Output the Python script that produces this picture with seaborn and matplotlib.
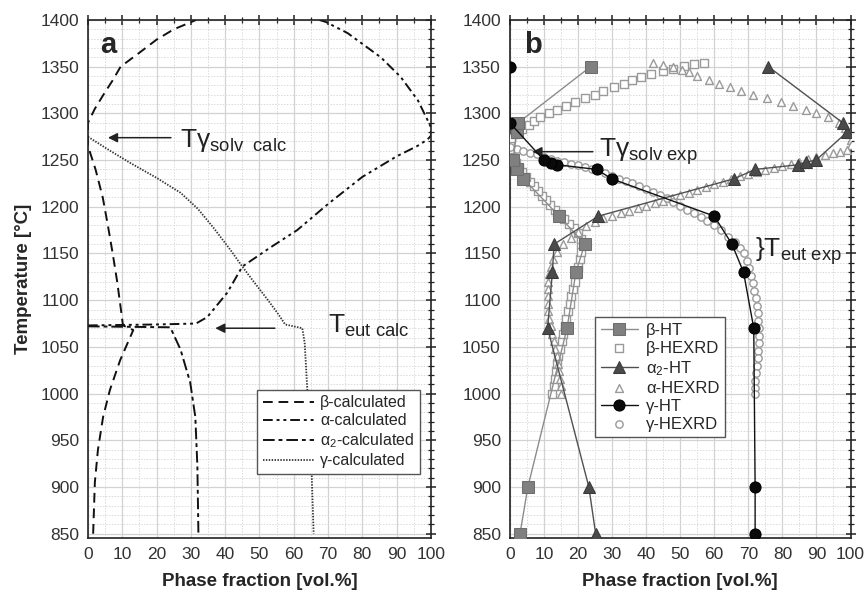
import numpy as np
import pandas as pd
import seaborn as sns
import matplotlib.pyplot as plt
from matplotlib.ticker import MultipleLocator

sns.set_style('white')
plt.rcParams['font.family'] = ['Liberation Sans', 'DejaVu Sans']
plt.rcParams['mathtext.fontset'] = 'custom'
plt.rcParams['mathtext.rm'] = 'Liberation Sans'
plt.rcParams['mathtext.it'] = 'Liberation Sans:italic'
plt.rcParams['mathtext.bf'] = 'Liberation Sans:bold'

# ---- panel a : calculated phase fractions ----
beta_calc_x = [1.5, 2.0, 2.9, 4.4, 6.4, 9.4, 13.2, 10.2, 9.6, 8.5, 7.2, 5.8, 4.3, 2.2, 0, 0,
               2, 4.5, 7.3, 9.5, 15, 20, 25, 31.5]
beta_calc_T = [850, 905, 940, 975, 1004, 1036, 1068, 1073, 1090, 1120, 1150, 1180, 1210, 1240, 1265, 1290,
               1305, 1320, 1336, 1350, 1365, 1379, 1390, 1400]

alpha_calc_x = [0, 20, 31.5, 34.8, 40.6, 45, 53, 61, 70, 80, 90, 96, 99, 100, 100,
                99.4, 96.2, 91.2, 85.4, 75.7, 69.3, 67.5]
alpha_calc_T = [1073, 1074, 1075, 1082, 1108, 1136, 1156, 1175, 1203, 1232, 1254, 1265, 1272, 1276, 1285,
                1290, 1314, 1339, 1360, 1386, 1398, 1400]

alpha2_calc_x = [0, 12, 24, 27, 29.8, 31.3, 31.9, 32.2]
alpha2_calc_T = [1072, 1071.5, 1071, 1047, 1012, 975, 922, 850]

gamma_calc_x = [0, 6, 12.3, 20, 27, 32, 36.5, 41.5, 45, 48.5, 52.5, 55.5, 57.5, 60, 62.5,
                63.2, 64, 65, 65.8]
gamma_calc_T = [1275, 1261, 1247, 1231, 1215, 1198, 1178, 1154, 1136, 1119, 1100, 1085, 1074, 1072, 1070,
                1054, 1001, 940, 850]

# ---- panel b : heat treatment (HT) points ----
beta_ht_T = [850, 900, 1070, 1130, 1160, 1190, 1230, 1240, 1250, 1280, 1290, 1350]
beta_ht_x = [3, 5.3, 16.8, 19.4, 22, 14.5, 4, 2, 1, 2, 2.5, 23.7]

alpha2_ht_T = [850, 900, 1070, 1130, 1160, 1190, 1230, 1240, 1245, 1248, 1250, 1280, 1290, 1350]
alpha2_ht_x = [25.2, 23.2, 11.1, 12.5, 13, 26, 65.8, 72, 84.6, 87, 89.9, 99, 97.7, 75.9]

gamma_ht_T = [850, 900, 1070, 1130, 1160, 1190, 1230, 1240, 1245, 1247, 1250, 1290, 1350]
gamma_ht_x = [72, 72, 71.6, 68.6, 65.2, 60, 29.9, 25.5, 14, 12, 10, 0, 0]

# ---- panel b : in-situ HEXRD ----
beta_hex_T = [1000, 1008, 1016, 1024, 1032, 1040, 1048, 1056, 1064, 1072, 1080, 1088, 1096, 1104, 1112,
              1120, 1128, 1136, 1144, 1152, 1160,
              1166, 1172, 1177, 1182, 1187, 1192, 1197, 1202, 1207, 1212, 1217, 1222, 1227, 1232, 1237,
              1242, 1247, 1252, 1257, 1262, 1268, 1274,
              1278, 1283, 1288, 1292, 1296, 1300, 1304, 1308, 1312, 1316, 1320, 1324, 1328, 1332, 1336,
              1339, 1342, 1345, 1348, 1351, 1353, 1354]
beta_hex_x = [12.5, 12.9, 13.3, 13.6, 13.9, 14.2, 14.7, 15.2, 15.6, 16.1, 16.6, 17.1, 17.6, 18.1, 18.6,
              19.1, 19.6, 20.1, 20.5, 20.8, 21.0,
              20.8, 20.0, 18.8, 17.5, 16.0, 14.7, 13.2, 11.9, 10.6, 9.4, 8.2, 7.0, 5.8, 4.7, 3.6,
              2.6, 1.7, 1.0, 0.4, 0.1, 0.0, 0.3,
              1.5, 3.5, 5.5, 7.0, 9.0, 11.5, 14.0, 16.5, 19.0, 22.0, 25.0, 27.5, 30.5, 33.5, 36.0,
              38.5, 41.5, 45.0, 48.0, 51.0, 54.0, 57.0]

alpha_hex_T = [1354, 1352, 1350, 1347, 1344, 1340, 1336, 1332, 1328, 1324, 1320, 1316, 1312, 1308, 1304,
               1300, 1296, 1290, 1284, 1278, 1272, 1266,
               1261, 1259, 1257.5, 1255.5, 1253.5, 1251, 1248, 1246, 1244, 1241.5, 1239, 1237, 1235, 1232.5,
               1230, 1227, 1224, 1221, 1218, 1215, 1212.5, 1209.5, 1206.5, 1204, 1201, 1198.5, 1196, 1193,
               1190, 1187.5, 1184, 1179, 1173, 1167,
               1160, 1152, 1144, 1136, 1128, 1120, 1112, 1104, 1096, 1088, 1080, 1072, 1064, 1056, 1048,
               1040, 1032, 1024, 1016, 1008, 1000]
alpha_hex_x = [42, 45, 48, 50.5, 52.5, 55, 58.5, 61.5, 64.5, 68, 71.5, 75.5, 79.5, 83, 87,
               90, 93.5, 96.5, 98.5, 99.5, 100, 100,
               99, 97, 95, 92.5, 90, 87.5, 85, 82.5, 80, 77.5, 75, 72.5, 70, 67.5,
               65, 62.5, 60, 57.5, 55, 52.5, 50, 47.5, 45, 42.5, 40, 37.5, 35, 32.5,
               30, 27.5, 25, 22.5, 20, 18,
               15.5, 14.0, 12.8, 12.0, 11.6, 11.3, 11.2, 11.1, 11.1, 11.2, 11.6, 12.0, 12.5, 13.0, 13.4,
               13.8, 14.1, 14.4, 14.7, 14.9, 15.1]

gamma_hex_x = [0, 2, 4, 6, 8, 10, 12, 14, 16, 18, 20, 22, 24, 26, 28, 30, 32, 34, 36, 38, 40, 42, 44,
               46, 48, 50, 52, 54, 56, 58, 60, 62, 64, 66,
               67.5, 68.7, 69.5, 70.3, 70.9, 71.4, 71.8, 72.2, 72.5, 72.7, 72.9, 73, 73, 73, 72.9, 72.7,
               72.5, 72.3, 72.1, 72, 71.9]
gamma_hex_T = [1264, 1262, 1260, 1258, 1256, 1253, 1251, 1249, 1247.5, 1246, 1244.5, 1243, 1241, 1239,
               1236, 1233, 1230, 1227.5, 1225, 1222, 1219, 1216, 1212.5, 1209, 1205, 1201, 1197, 1193,
               1189, 1184.5, 1180, 1175, 1168, 1162,
               1156, 1150, 1142, 1134, 1126, 1118, 1110, 1102, 1094, 1086, 1078, 1070, 1062, 1054, 1046,
               1038, 1030, 1022, 1014, 1006, 1000]

fig = plt.figure(figsize=(8.67, 5.97), dpi=100)
ax1 = fig.add_axes([0.1015, 0.099, 0.3955, 0.8675])
ax2 = fig.add_axes([0.588, 0.099, 0.393, 0.8675])


def style_axes(ax):
    ax.set_xlim(0, 100)
    ax.set_ylim(845.5, 1400)
    ax.xaxis.set_major_locator(MultipleLocator(10))
    ax.xaxis.set_minor_locator(MultipleLocator(5))
    ax.yaxis.set_major_locator(MultipleLocator(50))
    ax.yaxis.set_minor_locator(MultipleLocator(10))
    ax.set_axisbelow(True)
    ax.grid(which='major', color='#d2d2d2', lw=0.9)
    ax.grid(which='minor', color='#dadada', lw=0.7, ls=(0, (1.5, 1.5)))
    ax.tick_params(which='both', direction='inout', top=True, right=True, colors='#222222',
                   labelsize=12.5, labelcolor='#333333', pad=3)
    ax.tick_params(which='major', length=7, width=1.1)
    ax.tick_params(which='minor', length=4, width=0.9)
    for s in ax.spines.values():
        s.set_color('#222222')
        s.set_linewidth(1.2)
    ax.set_xlabel('Phase fraction [vol.%]', fontsize=13.5, fontweight='bold', labelpad=8)


style_axes(ax1)
style_axes(ax2)

# panel a curves
sns.lineplot(x=beta_calc_x, y=beta_calc_T, sort=False, estimator=None, ax=ax1, color='#111111',
             lw=1.4, ls=(0, (5, 3)), label='β-calculated')
sns.lineplot(x=alpha_calc_x, y=alpha_calc_T, sort=False, estimator=None, ax=ax1, color='#111111',
             lw=1.4, ls=(0, (5, 2, 1.5, 2, 1.5, 2)), label='α-calculated')
sns.lineplot(x=alpha2_calc_x, y=alpha2_calc_T, sort=False, estimator=None, ax=ax1, color='#111111',
             lw=1.4, ls=(0, (6, 2, 2, 2)), label='α$_2$-calculated')
sns.lineplot(x=gamma_calc_x, y=gamma_calc_T, sort=False, estimator=None, ax=ax1, color='#333333',
             lw=1.3, ls=(0, (0.8, 0.8)), label='γ-calculated')

ax1.set_ylabel('Temperature [°C]', fontsize=13.5, fontweight='bold', labelpad=6)
ax1.legend(loc='lower left', bbox_to_anchor=(0.47, 0.108), fontsize=11.5, frameon=True,
           fancybox=False, edgecolor='#555555', framealpha=1, handlelength=3.2,
           labelspacing=0.2, borderpad=0.35, handletextpad=0.4)

ax1.text(0.035, 0.936, 'a', transform=ax1.transAxes, fontsize=21, fontweight='bold')
ax1.annotate('', xy=(5, 1274), xytext=(25, 1274),
             arrowprops=dict(arrowstyle='-|>', color='#222222', lw=1.1, mutation_scale=14))
ax1.text(26.9, 1264, r'$\mathrm{T\gamma_{solv\ \ calc}}$', fontsize=19, color='#222222')
ax1.annotate('', xy=(36.3, 1070), xytext=(55.3, 1070),
             arrowprops=dict(arrowstyle='-|>', color='#222222', lw=1.1, mutation_scale=14))
ax1.text(70, 1065, r'$\mathrm{T_{eut\ calc}}$', fontsize=19, color='#222222')

# panel b : HEXRD (open symbols)
hex_col = '#9a9a9a'
sns.scatterplot(x=beta_hex_x, y=beta_hex_T, ax=ax2, marker='s', s=28, color='white',
                edgecolor=hex_col, linewidth=1.0, label='β-HEXRD', zorder=3)
sns.scatterplot(x=alpha_hex_x, y=alpha_hex_T, ax=ax2, marker='^', s=32, color='white',
                edgecolor=hex_col, linewidth=1.0, label='α-HEXRD', zorder=3)
sns.scatterplot(x=gamma_hex_x, y=gamma_hex_T, ax=ax2, marker='o', s=28, color='white',
                edgecolor=hex_col, linewidth=1.0, label='γ-HEXRD', zorder=3)

# panel b : HT (filled symbols with lines)
sns.lineplot(x=beta_ht_x, y=beta_ht_T, sort=False, estimator=None, ax=ax2, color='#8c8c8c', lw=1.0,
             marker='s', markersize=8, markerfacecolor='#808080', markeredgecolor='#6e6e6e',
             label='β-HT', zorder=5)
sns.lineplot(x=alpha2_ht_x, y=alpha2_ht_T, sort=False, estimator=None, ax=ax2, color='#505050', lw=1.0,
             marker='^', markersize=9, markerfacecolor='#4a4a4a', markeredgecolor='#3a3a3a',
             label='α$_2$-HT', zorder=5)
sns.lineplot(x=gamma_ht_x, y=gamma_ht_T, sort=False, estimator=None, ax=ax2, color='#111111', lw=1.0,
             marker='o', markersize=8, markerfacecolor='#0a0a0a', markeredgecolor='#000000',
             label='γ-HT', zorder=6)

handles, labels = ax2.get_legend_handles_labels()
order = ['β-HT', 'β-HEXRD', 'α$_2$-HT', 'α-HEXRD', 'γ-HT', 'γ-HEXRD']
lut = dict(zip(labels, handles))
ax2.legend([lut[k] for k in order], order, loc='lower left', bbox_to_anchor=(0.226, 0.178),
           fontsize=12, frameon=True, fancybox=False, edgecolor='#555555', framealpha=1,
           handlelength=2.2, labelspacing=0.18, borderpad=0.35, handletextpad=0.5)

ax2.text(0.043, 0.936, 'b', transform=ax2.transAxes, fontsize=21, fontweight='bold')
ax2.annotate('', xy=(5.8, 1259), xytext=(25.2, 1259),
             arrowprops=dict(arrowstyle='-|>', color='#222222', lw=1.1, mutation_scale=14))
ax2.text(26.1, 1253, r'$\mathrm{T\gamma_{solv\ exp}}$', fontsize=19, color='#222222')
ax2.text(71.9, 1146, r'$\mathrm{\}T_{eut\ exp}}$', fontsize=19, color='#222222')

fig.savefig('out.png', dpi=100)
